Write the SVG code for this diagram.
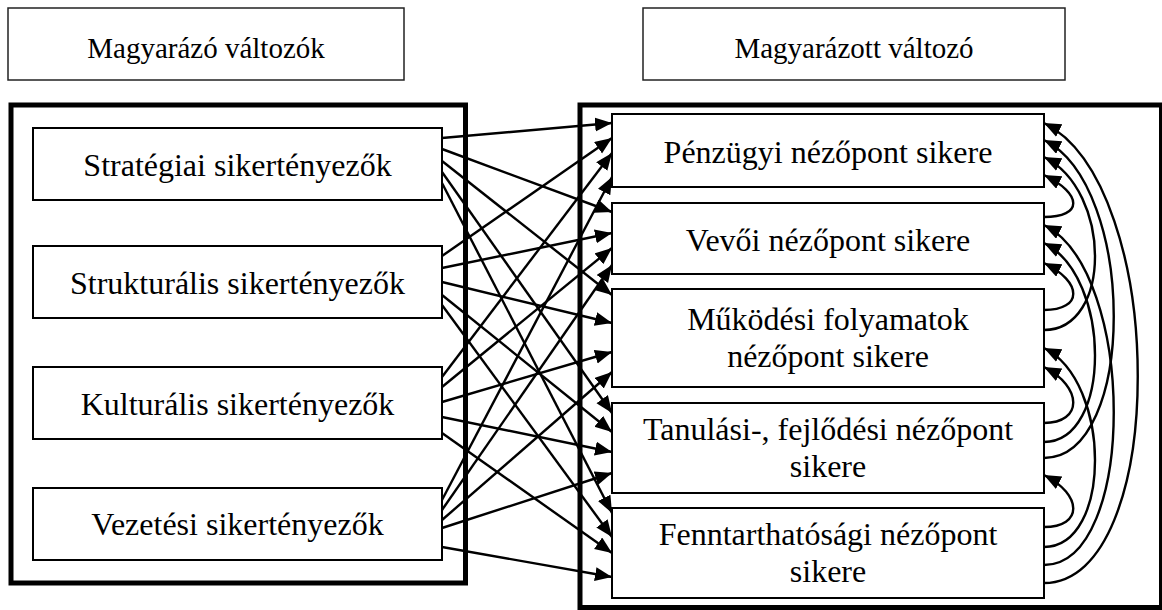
<svg xmlns="http://www.w3.org/2000/svg" width="1162" height="610" viewBox="0 0 1162 610">
  <style>
    .hdr { fill: #fff; stroke: #222; stroke-width: 1.5; }
    .frame { fill: none; stroke: #000; stroke-width: 5; }
    .box { fill: #fff; stroke: #000; stroke-width: 2; }
    .lbl { font-family: "Liberation Serif", "Times New Roman", serif; font-size: 32px; fill: #000; text-anchor: middle; }
    .ttl { font-family: "Liberation Serif", "Times New Roman", serif; font-size: 29px; fill: #000; text-anchor: middle; }
    .conn { fill: none; stroke: #000; stroke-width: 2.4; marker-end: url(#ah); }
  </style>
  <defs>
    <marker id="ah" markerUnits="userSpaceOnUse" markerWidth="18" markerHeight="16" refX="17" refY="7" orient="auto">
      <path d="M0,0 L17,7 L0,14 z" fill="#000"/>
    </marker>
  </defs>

  <rect width="1162" height="610" fill="#fff"/>

  <!-- column headers -->
  <g id="hdr-explanatory">
    <rect class="hdr" x="8" y="8" width="396" height="72"/>
    <text class="ttl" x="206" y="58">Magyarázó változók</text>
  </g>
  <g id="hdr-explained">
    <rect class="hdr" x="643" y="8" width="422" height="72"/>
    <text class="ttl" x="854" y="58">Magyarázott változó</text>
  </g>

  <!-- group frames -->
  <rect id="frame-left" class="frame" x="11" y="105" width="454.5" height="478"/>
  <rect id="frame-right" class="frame" x="580" y="105" width="581.5" height="502.5"/>

  <!-- connectors -->
  <g id="connectors">
    <!-- Stratégiai -->
    <line class="conn" x1="442" y1="138" x2="612" y2="123"/>
    <line class="conn" x1="442" y1="149" x2="612" y2="212"/>
    <line class="conn" x1="442" y1="161" x2="612" y2="295"/>
    <line class="conn" x1="442" y1="172" x2="612" y2="413"/>
    <line class="conn" x1="442" y1="183" x2="612" y2="513"/>
    <!-- Strukturális -->
    <line class="conn" x1="442" y1="256" x2="612" y2="138"/>
    <line class="conn" x1="442" y1="268" x2="612" y2="233"/>
    <line class="conn" x1="442" y1="282" x2="612" y2="323"/>
    <line class="conn" x1="442" y1="295" x2="612" y2="432"/>
    <line class="conn" x1="442" y1="305" x2="612" y2="537"/>
    <!-- Kulturális -->
    <line class="conn" x1="442" y1="377" x2="612" y2="153"/>
    <line class="conn" x1="442" y1="387" x2="612" y2="248"/>
    <line class="conn" x1="442" y1="402" x2="612" y2="352"/>
    <line class="conn" x1="442" y1="417" x2="612" y2="452"/>
    <line class="conn" x1="442" y1="433" x2="612" y2="553"/>
    <!-- Vezetési -->
    <line class="conn" x1="442" y1="500" x2="612" y2="177"/>
    <line class="conn" x1="442" y1="510" x2="612" y2="265"/>
    <line class="conn" x1="442" y1="520" x2="612" y2="372"/>
    <line class="conn" x1="442" y1="528" x2="612" y2="473"/>
    <line class="conn" x1="442" y1="547" x2="612" y2="577"/>

    <!-- feedback arcs between outcome perspectives -->
    <path class="conn" d="M1044,217 C1083,217 1083,194 1044,175"/>
    <path class="conn" d="M1044,310 C1083,310 1083,282 1044,263"/>
    <path class="conn" d="M1044,423 C1083,423 1083,387 1044,367"/>
    <path class="conn" d="M1044,527 C1083,527 1083,495 1044,475"/>
    <path class="conn" d="M1044,330 C1112,330 1112,191 1044,157"/>
    <path class="conn" d="M1044,442 C1112,442 1112,277 1044,243"/>
    <path class="conn" d="M1044,547 C1112,547 1112,382 1044,348"/>
    <path class="conn" d="M1044,458 C1137,458 1137,186 1044,140"/>
    <path class="conn" d="M1044,565 C1137,565 1137,271 1044,225"/>
    <path class="conn" d="M1044,583 C1169,583 1169,185 1044,123"/>
  </g>

  <!-- explanatory factors -->
  <g id="n-strategiai">
    <rect class="box" x="33" y="128" width="409" height="72"/>
    <text class="lbl" x="237.5" y="176">Stratégiai sikertényezők</text>
  </g>
  <g id="n-strukturalis">
    <rect class="box" x="33" y="246" width="409" height="72"/>
    <text class="lbl" x="237.5" y="294">Strukturális sikertényezők</text>
  </g>
  <g id="n-kulturalis">
    <rect class="box" x="33" y="367" width="409" height="72"/>
    <text class="lbl" x="237.5" y="415">Kulturális sikertényezők</text>
  </g>
  <g id="n-vezetesi">
    <rect class="box" x="33" y="488" width="409" height="72"/>
    <text class="lbl" x="237.5" y="535">Vezetési sikertényezők</text>
  </g>

  <!-- outcome perspectives -->
  <g id="n-penzugyi">
    <rect class="box" x="612" y="114" width="432" height="73"/>
    <text class="lbl" x="828" y="163">Pénzügyi nézőpont sikere</text>
  </g>
  <g id="n-vevoi">
    <rect class="box" x="612" y="203" width="432" height="71"/>
    <text class="lbl" x="828" y="251">Vevői nézőpont sikere</text>
  </g>
  <g id="n-mukodesi">
    <rect class="box" x="612" y="289" width="432" height="98"/>
    <text class="lbl" x="828" y="330">Működési folyamatok</text>
    <text class="lbl" x="828" y="367">nézőpont sikere</text>
  </g>
  <g id="n-tanulasi">
    <rect class="box" x="612" y="403" width="432" height="90"/>
    <text class="lbl" x="828" y="440">Tanulási-, fejlődési nézőpont</text>
    <text class="lbl" x="828" y="477">sikere</text>
  </g>
  <g id="n-fenntarthatosagi">
    <rect class="box" x="612" y="508" width="432" height="90"/>
    <text class="lbl" x="828" y="545">Fenntarthatósági nézőpont</text>
    <text class="lbl" x="828" y="582">sikere</text>
  </g>
</svg>
